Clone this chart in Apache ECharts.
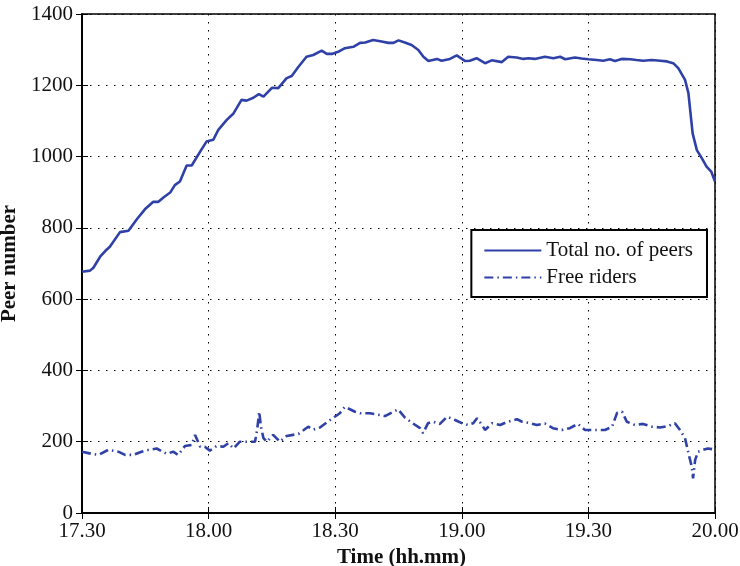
<!DOCTYPE html>
<html>
<head>
<meta charset="utf-8">
<script src="https://cdn.jsdelivr.net/npm/echarts@6/dist/echarts.min.js"></script>
<style>
html,body{margin:0;padding:0;background:#fff;}
#chart{width:740px;height:566px;}
</style>
</head>
<body>
<div id="chart"></div>
<script>
// Minutes after 17:30
const xTickLabels = ['17.30','18.00','18.30','19.00','19.30','20.00'];
const yTicks = [0,200,400,600,800,1000,1200,1400];

const totalMinutes = [0,1.9,2.7,4.3,5.5,6.6,9.0,11.0,13.0,14.9,16.9,18.1,19.3,20.9,22.0,23.2,24.8,26.0,28.0,29.5,31.1,32.3,34.3,35.9,37.8,39.0,40.6,41.9,43.0,45.0,46.5,48.5,49.7,51.3,53.2,54.8,56.8,58.0,59.2,60.7,62.3,64.3,65.9,67.1,69.0,71.0,72.6,73.8,75.0,76.5,78.1,79.7,80.9,82.1,84.1,85.2,87.2,88.8,90.8,91.9,93.5,95.5,97.1,99.5,101.0,103.0,104.6,105.8,107.3,109.7,111.7,113.3,114.5,116.8,118.4,120.0,122.0,123.5,125.1,126.3,127.9,129.9,131.4,133.0,135.0,137.0,138.6,140.1,141.3,142.9,143.7,144.2,144.7,145.7,146.9,148.0,149.1,150];
const totalPeers = [677,680,688,719,735,747,788,792,824,852,873,873,885,899,920,930,975,975,1014,1042,1047,1075,1103,1121,1159,1157,1165,1175,1168,1193,1192,1220,1226,1252,1280,1285,1297,1288,1288,1294,1304,1308,1319,1320,1327,1323,1319,1319,1326,1320,1313,1299,1280,1268,1274,1269,1274,1284,1268,1269,1276,1262,1270,1265,1280,1278,1274,1276,1274,1280,1276,1280,1273,1278,1275,1273,1271,1269,1273,1268,1274,1273,1271,1269,1271,1269,1267,1262,1248,1215,1178,1121,1065,1018,995,972,958,930];

const freeMinutes = [0,2.3,3.9,6.2,8.6,10.2,12.2,14.1,15.7,17.7,20.1,21.6,22.8,24.4,26.0,26.8,28.0,29.1,30.3,31.9,33.5,34.7,35.9,37.4,39.4,41.0,41.5,42.0,42.4,43.0,43.8,45.3,46.9,48.5,51.3,53.6,54.8,56.4,58.8,61.1,62.3,64.7,65.9,68.2,70.6,71.8,74.9,76.5,78.2,80.1,80.8,82.0,83.2,84.8,86.5,88.4,90.0,91.5,92.7,93.6,94.8,95.5,97.2,99.1,100.9,103.1,104.3,106.2,107.8,109.7,111.6,113.7,115.6,117.5,119.2,122.0,123.9,125.6,126.8,128.0,129.1,131.0,132.9,135.1,137.0,138.9,140.5,141.7,142.9,143.8,144.5,144.8,145.3,146.0,147.2,148.3,150];
const freeRiders = [172,166,163,177,172,163,163,172,177,181,166,172,163,188,191,219,186,186,175,188,186,196,181,200,200,200,233,284,242,210,200,219,200,216,222,242,234,240,261,280,298,284,280,280,275,272,291,268,253,238,224,252,256,250,270,261,252,247,252,266,247,233,252,247,256,263,256,252,247,251,238,233,238,250,233,233,233,242,281,284,256,247,250,242,240,244,252,233,210,163,130,97,149,172,177,181,178];

const lineColor = '#2f41a7';
const font = 'Liberation Serif, Times New Roman, serif';
const fs = 21;

const chart = echarts.init(document.getElementById('chart'), null, {renderer:'canvas'});
const pair = (xs, ys) => xs.map((x, i) => [x, ys[i]]);

const gridLine = {show:true, lineStyle:{color:'#000', type:[1.5,6.5], width:1}};

chart.setOption({
  animation:false,
  backgroundColor:'#fff',
  textStyle:{fontFamily:font},
  grid:{left:82, right:25, top:14, bottom:53, show:true, borderColor:'#000', borderWidth:1.5,
    backgroundColor:'transparent', containLabel:false, outerBoundsMode:'none'},
  legend:{
    orient:'vertical', right:33, top:230,
    backgroundColor:'#fff', borderColor:'#000', borderWidth:2,
    padding:[10,14,9,12], itemGap:6, itemWidth:57, itemHeight:14,
    itemStyle:{opacity:0},
    textStyle:{fontFamily:font, fontSize:fs, color:'#111'},
    data:[{name:'Total no. of peers'},{name:'Free riders'}]
  },
  xAxis:[{
    type:'value', min:0, max:150, interval:30,
    name:'Time (hh.mm)', nameLocation:'middle', nameGap:22,
    nameTextStyle:{fontFamily:font, fontSize:fs, fontWeight:'bold', color:'#111', padding:[0,0,0,6]},
    axisLine:{show:true, lineStyle:{color:'#000', width:1.5}},
    axisTick:{show:true, inside:true, length:6, lineStyle:{color:'#000', width:1}},
    axisLabel:{fontFamily:font, fontSize:fs, color:'#111', margin:8,
      formatter:v => xTickLabels[Math.round(v/30)]},
    splitLine:gridLine
  },{
    type:'value', min:0, max:150, interval:30, position:'top',
    axisLine:{show:true, lineStyle:{color:'#000', width:1.5}},
    axisTick:{show:true, inside:true, length:6, lineStyle:{color:'#000'}},
    axisLabel:{show:false}, splitLine:{show:false}
  }],
  yAxis:[{
    type:'value', min:0, max:1400, interval:200,
    name:'Peer number', nameLocation:'middle', nameGap:54,
    nameTextStyle:{fontFamily:font, fontSize:fs, fontWeight:'bold', color:'#111'},
    axisLine:{show:true, lineStyle:{color:'#000', width:1.5}},
    axisTick:{show:true, inside:true, length:6, lineStyle:{color:'#000'}},
    axisLabel:{fontFamily:font, fontSize:fs, color:'#111', margin:9,
      formatter:v => yTicks.indexOf(v) >= 0 ? String(v) : ''},
    splitLine:gridLine
  },{
    type:'value', min:0, max:1400, interval:200, position:'right',
    axisLine:{show:true, lineStyle:{color:'#000', width:1.5}},
    axisTick:{show:true, inside:true, length:6, lineStyle:{color:'#000'}},
    axisLabel:{show:false}, splitLine:{show:false}
  }],
  series:[{
    name:'Total no. of peers', type:'line', data:pair(totalMinutes,totalPeers),
    showSymbol:false, symbol:'none',
    lineStyle:{color:lineColor, width:2.6},
    itemStyle:{color:lineColor}
  },{
    name:'Free riders', type:'line', data:pair(freeMinutes,freeRiders),
    showSymbol:false, symbol:'none',
    lineStyle:{color:lineColor, width:2.6, type:[9,4,1.5,4]},
    itemStyle:{color:lineColor}
  }]
});
</script>
</body>
</html>
